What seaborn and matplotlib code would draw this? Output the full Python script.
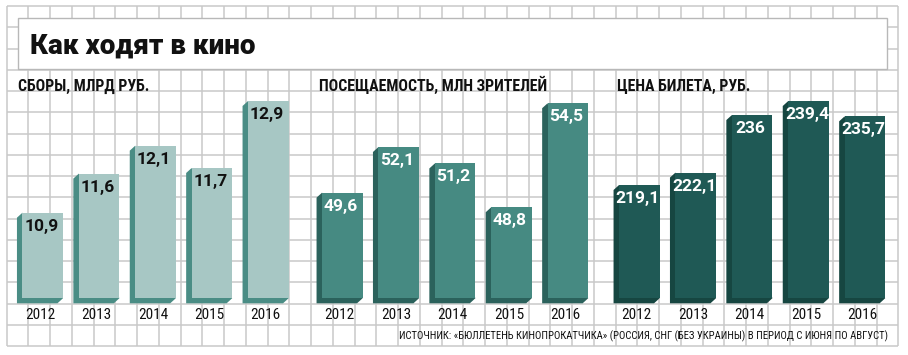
import matplotlib
matplotlib.use('Agg')
import numpy as np
import pandas as pd
import matplotlib.pyplot as plt
import seaborn as sns
from matplotlib import font_manager as fm
from matplotlib.patches import Rectangle, Polygon
from matplotlib.transforms import IdentityTransform

# ---------------- data ----------------
years = ['2012', '2013', '2014', '2015', '2016']
box_office = [10.9, 11.6, 12.1, 11.7, 12.9]          # млрд руб.
attendance = [49.6, 52.1, 51.2, 48.8, 54.5]          # млн зрителей
ticket_price = [219.1, 222.1, 236.0, 239.4, 235.7]   # руб.

main_title = 'Как ходят в кино'
panel_titles = ['СБОРЫ, МЛРД РУБ.', 'ПОСЕЩАЕМОСТЬ, МЛН ЗРИТЕЛЕЙ', 'ЦЕНА БИЛЕТА, РУБ.']
source_text = ('ИСТОЧНИК: «БЮЛЛЕТЕНЬ КИНОПРОКАТЧИКА» (РОССИЯ, СНГ (БЕЗ УКРАИНЫ) '
               'В ПЕРИОД С ИЮНЯ ПО АВГУСТ)')

# ---------------- fonts ----------------
sns.set_theme(style='white')
names = {f.name for f in fm.fontManager.ttflist}


def pick(*cands):
    for c in cands:
        if c in names:
            return c
    return 'DejaVu Sans'


COND = pick('Roboto Condensed', 'Liberation Sans Narrow', 'DejaVu Sans Condensed', 'Roboto')
BOLD = pick('Roboto', 'DejaVu Sans')
plt.rcParams['font.family'] = [COND, 'DejaVu Sans']

W, H = 908, 355
fig = plt.figure(figsize=(W / 100, H / 100), dpi=100)
fig.patch.set_facecolor('white')

# ---------------- background grid & title box ----------------
bg = fig.add_axes([0, 0, 1, 1], zorder=0)
bg.set_xlim(0, W)
bg.set_ylim(H, 0)
bg.axis('off')
gx = np.arange(6.7, 899, 21.75)
gy = 6 + 21.25 * np.arange(17)
grid_col = '#c9c9c9'
bg.vlines(gx, gy[0], gy[-1], color=grid_col, lw=1.1)
bg.hlines(gy, gx[0], gx[-1], color=grid_col, lw=1.1)
bg.add_patch(Rectangle((18.3, 18.3), 868.4, 51, fc='white', ec='#b8b8b8', lw=1.0, zorder=3))
bg.text(30, 53.3, main_title, fontsize=20, fontweight='black', family=[BOLD, 'DejaVu Sans'],
        color='#111111', va='baseline', ha='left', zorder=4)
bg.text(888, 339.3, source_text, fontsize=7.7, color='#111111', va='baseline', ha='right', zorder=4)

# ---------------- panels ----------------
step = 56.4          # px between bars
bar_w = 0.718        # bar width (category units)
base_px = 298.3      # bar base (px from top)
top_px = 95.0        # top of the panel axes (px from top)
dx, dy = -5.5, -5.0  # 3D extrusion offset (display px)

panels = [
    dict(vals=box_office, c0=42.7, base=9.367, scale=55.85, face='#a7c7c4', side='#4a8d85',
         txt='#111111', tx=18.3),
    dict(vals=attendance, c0=342.3, base=43.81, scale=18.25, face='#468a82', side='#2b625c',
         txt='white', tx=319.3),
    dict(vals=ticket_price, c0=639.3, base=191.72, scale=4.138, face='#1f5955', side='#164641',
         txt='white', tx=616.7),
]

for title, p in zip(panel_titles, panels):
    left = p['c0'] - 0.5 * step
    ax = fig.add_axes([left / W, 1 - base_px / H, 5 * step / W, (base_px - top_px) / H], zorder=2)
    ax.patch.set_visible(False)
    df = pd.DataFrame({'year': years, 'value': p['vals']})
    sns.barplot(data=df, x='year', y='value', color=p['face'], saturation=1, width=bar_w,
                ax=ax, zorder=3, edgecolor='none', linewidth=0)
    ax.set_xlim(-0.5, 4.5)
    ax.set_ylim(p['base'], p['base'] + (base_px - top_px) / p['scale'])
    ax.axis('off')

    ymin = ax.get_ylim()[0]
    for bar in list(ax.patches):
        x0 = bar.get_x()
        x1 = x0 + bar.get_width()
        top = bar.get_y() + bar.get_height()
        bot = max(bar.get_y(), ymin)
        X0, YT = ax.transData.transform((x0, top))
        X1, YB = ax.transData.transform((x1, bot))
        verts = [(X0, YT), (X0 + dx, YT + dy), (X0 + dx, YB + dy), (X1 + dx, YB + dy), (X1, YB)]
        ax.add_patch(Polygon(verts, closed=True, transform=IdentityTransform(), fc=p['side'],
                             ec='none', zorder=2, clip_on=False))

    for i, v in enumerate(p['vals']):
        lbl = f'{v:g}'.replace('.', ',')
        ax.annotate(lbl, xy=(i, v), xytext=(-1.5 * 0.72, -13.5 * 0.72), textcoords='offset points',
                    ha='center', va='center', fontsize=12.5, fontweight='bold',
                    family=[BOLD, 'DejaVu Sans'], color=p['txt'], zorder=5)
        ax.annotate(years[i], xy=(i, 0), xycoords=('data', 'axes fraction'),
                    xytext=(-2.5 * 0.72, -17 * 0.72), textcoords='offset points',
                    ha='center', va='center', fontsize=11, color='#111111', zorder=5,
                    annotation_clip=False)

    bg.text(p['tx'], 91.3, title, fontsize=11.4, fontweight='bold', color='#111111',
            va='baseline', ha='left', zorder=4)

fig.savefig('out.png', dpi=100, facecolor='white')
